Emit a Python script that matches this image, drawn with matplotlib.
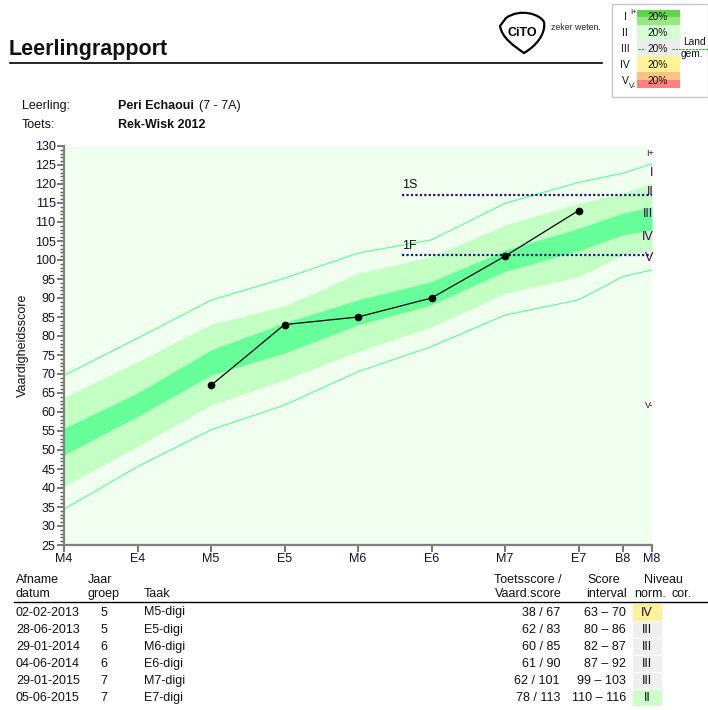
import matplotlib
matplotlib.use('Agg')
import matplotlib.pyplot as plt
from matplotlib.patches import Rectangle, PathPatch
from matplotlib.path import Path
from matplotlib.ticker import MultipleLocator

plt.rcParams['font.family'] = ['Liberation Sans', 'DejaVu Sans']

# ---- data ----
tick_pos = [0, 1, 2, 3, 4, 5, 6, 7, 7.6, 8]
tick_labels = ['M4', 'E4', 'M5', 'E5', 'M6', 'E6', 'M7', 'E7', 'B8', 'M8']

# band boundaries (top to bottom) at each tick position
upper_line = [69.6, 79.4, 89.4, 95.2, 101.8, 105.3, 114.9, 120.4, 122.8, 125.3]
light_top = [63.8, 73.2, 83.1, 87.9, 96.5, 100.9, 109.2, 114.9, 117.6, 120.3]
dark_top = [55.7, 65.0, 76.3, 83.5, 89.5, 94.3, 102.6, 108.3, 112.3, 114.0]
dark_bot = [48.7, 58.8, 69.7, 75.5, 82.9, 88.2, 97.0, 102.4, 106.6, 107.9]
light_bot = [40.5, 50.9, 61.8, 68.4, 75.9, 82.4, 91.2, 95.6, 101.3, 102.6]
lower_line = [34.4, 45.6, 55.3, 61.8, 70.6, 77.2, 85.5, 89.5, 95.6, 97.4]

# student scores
score_x = [2, 3, 4, 5, 6, 7]
score_y = [67, 83, 85, 90, 101, 113]

# reference levels
ref_names = ['1S', '1F']
ref_vals = [117.2, 101.2]

# level labels on the right
lvl_names = ['I+', 'I', 'II', 'III', 'IV', 'V', 'V-']
lvl_y = [127.9, 123.0, 118.0, 112.0, 106.0, 100.5, 61.7]

# table
dates = ['02-02-2013', '28-06-2013', '29-01-2014', '04-06-2014', '29-01-2015', '05-06-2015']
groups = ['5', '5', '6', '6', '7', '7']
tasks = ['M5-digi', 'E5-digi', 'M6-digi', 'E6-digi', 'M7-digi', 'E7-digi']
scores = ['38 / 67', '62 / 83', '60 / 85', '61 / 90', '62 / 101', '78 / 113']
intervals = ['63 – 70', '80 – 86', '82 – 87', '87 – 92', '99 – 103', '110 – 116']
levels = ['IV', 'III', 'III', 'III', 'III', 'II']
level_colors = {'II': '#ccffcc', 'III': '#efefef', 'IV': '#fff09a'}

W, H = 708, 710
fig = plt.figure(figsize=(W / 100, H / 100), dpi=100)

# overlay in pixel coordinates for the page elements
pg = fig.add_axes([0, 0, 1, 1])
pg.set_xlim(0, W)
pg.set_ylim(H, 0)
pg.axis('off')

txt = '#111111'
fs = 9
pg.text(9, 49, 'Leerlingrapport', fontsize=15.5, fontweight='bold', va='center', color=txt)
pg.plot([10, 602], [63, 63], color='black', lw=1.2)

# cito logo
verts = [(506, 18), (520, 8), (540, 14), (544, 22), (546, 34), (536, 46), (524, 53),
         (514, 46), (502, 38), (500, 26), (506, 18)]
codes = [Path.MOVETO] + [Path.CURVE4] * 9 + [Path.CLOSEPOLY]
pg.add_patch(PathPatch(Path(verts, codes), fill=False, lw=1.6, ec='black'))
pg.text(522, 33, 'CiTO', fontsize=9, fontweight='bold', ha='center', va='center', color='black')
pg.text(551, 27, 'zeker weten.', fontsize=6.3, va='center', color='#222222')

# level legend box
pg.add_patch(Rectangle((612, 4), 96, 93, fill=False, ec='#c8c8c8', lw=1))
bar = [(10, 16.7, '#5ed649'), (16.7, 25, '#98e882'), (25, 40, '#d4ffd4'), (40, 56, '#ececec'),
       (56, 71.7, '#fff39a'), (71.7, 80, '#ffc285'), (80, 88.3, '#ff8080')]
for y0, y1, c in bar:
    pg.add_patch(Rectangle((637, y0), 43, y1 - y0, color=c, lw=0))
for lab, yy in zip(['I', 'II', 'III', 'IV', 'V'], [17, 33, 49, 65, 81]):
    pg.text(625, yy, lab, fontsize=7.5, ha='center', va='center', color=txt)
    pg.text(658, yy, '20%', fontsize=7.3, ha='center', va='center', color=txt)
pg.text(634, 13, 'I+', fontsize=5.5, ha='center', va='center', color=txt)
pg.text(633, 86, 'V-', fontsize=5.5, ha='center', va='center', color=txt)
pg.plot([638, 645], [49, 49], color='#3a9a3a', lw=0.8, ls=(0, (2, 1)))
pg.plot([672, 708], [49, 49], color='#3a9a3a', lw=0.8, ls=(0, (2, 1)))
pg.text(694, 42, 'Land', fontsize=7.3, ha='center', va='center', color=txt)
pg.text(692, 54, 'gem.', fontsize=7.3, ha='center', va='center', color=txt)

# student info
pg.text(22, 106, 'Leerling:', fontsize=fs, va='center', color=txt)
pg.text(22, 125, 'Toets:', fontsize=fs, va='center', color=txt)
pg.text(118, 106, 'Peri Echaoui', fontsize=fs, fontweight='bold', va='center', color=txt)
pg.text(199, 106, '(7 - 7A)', fontsize=fs, va='center', color=txt)
pg.text(118, 125, 'Rek-Wisk 2012', fontsize=fs, fontweight='bold', va='center', color=txt)

# ---- chart ----
ax = fig.add_axes([64 / W, 1 - 545 / H, 588 / W, 399 / H])
ax.set_facecolor('#f0fff0')
ax.fill_between(tick_pos, light_bot, light_top, color='#c4ffc4', lw=0)
ax.fill_between(tick_pos, dark_bot, dark_top, color='#66ff99', lw=0)
ax.plot(tick_pos, upper_line, color='#66ff99', lw=0.9)
ax.plot(tick_pos, lower_line, color='#66ff99', lw=0.9)

for name, v in zip(ref_names, ref_vals):
    ax.plot([4.6, 8], [v, v], color='#1a1a80', lw=1.6, ls=(0, (1, 1)))
    ax.text(4.6, v + 1.0, name, fontsize=fs, va='bottom', color='#111111')

ax.plot(score_x, score_y, color='black', lw=0.9, marker='o', ms=4.5, zorder=5)

for lab, yy in zip(lvl_names, lvl_y):
    ax.text(8.02, yy, lab, fontsize=fs if lab not in ('I+', 'V-') else 6.5,
            ha='right', va='center', color='#4a0050', clip_on=False)

ax.set_xlim(0, 8)
ax.set_ylim(25, 130)
ax.set_xticks(tick_pos)
ax.set_xticklabels(tick_labels)
ax.yaxis.set_major_locator(MultipleLocator(5))
ax.yaxis.set_minor_locator(MultipleLocator(1))
for s in ['top', 'right']:
    ax.spines[s].set_visible(False)
for s in ['left', 'bottom']:
    ax.spines[s].set_color('#808080')
    ax.spines[s].set_linewidth(1.6)
ax.tick_params(axis='both', which='major', labelsize=fs, color='#606060', length=5, width=1.2,
               labelcolor='#111133', pad=1)
ax.tick_params(axis='y', which='minor', color='#606060', length=3, width=1)
ax.set_ylabel('Vaardigheidsscore', fontsize=fs, color='#111111', labelpad=4)

# ---- table ----
for lab, x, ha in [('Afname', 16, 'left'), ('Jaar', 88, 'left'), ('Toetsscore /', 562, 'right'),
                   ('Score', 587, 'left'), ('Niveau', 644, 'left')]:
    pg.text(x, 580, lab, fontsize=fs, ha=ha, va='center', color=txt)
for lab, x, ha in [('datum', 16, 'left'), ('groep', 88, 'left'), ('Taak', 144, 'left'),
                   ('Vaard.score', 562, 'right'), ('interval', 586, 'left'),
                   ('norm.', 634, 'left'), ('cor.', 672, 'left')]:
    pg.text(x, 594, lab, fontsize=fs, ha=ha, va='center', color=txt)
pg.plot([14, 708], [602, 602], color='black', lw=1)

row_y = [612.5, 630, 647, 664, 681, 698]
for i, yy in enumerate(row_y):
    pg.add_patch(Rectangle((633, yy - 8.3), 29, 16.6, color=level_colors[levels[i]], lw=0))
    pg.text(16, yy, dates[i], fontsize=fs, va='center', color=txt)
    pg.text(104, yy, groups[i], fontsize=fs, ha='center', va='center', color=txt)
    pg.text(144, yy, tasks[i], fontsize=fs, va='center', color=txt)
    pg.text(560, yy, scores[i], fontsize=fs, ha='right', va='center', color=txt)
    pg.text(626, yy, intervals[i], fontsize=fs, ha='right', va='center', color=txt)
    pg.text(647, yy, levels[i], fontsize=fs, ha='center', va='center', color=txt)

fig.savefig('out.png', dpi=100)
